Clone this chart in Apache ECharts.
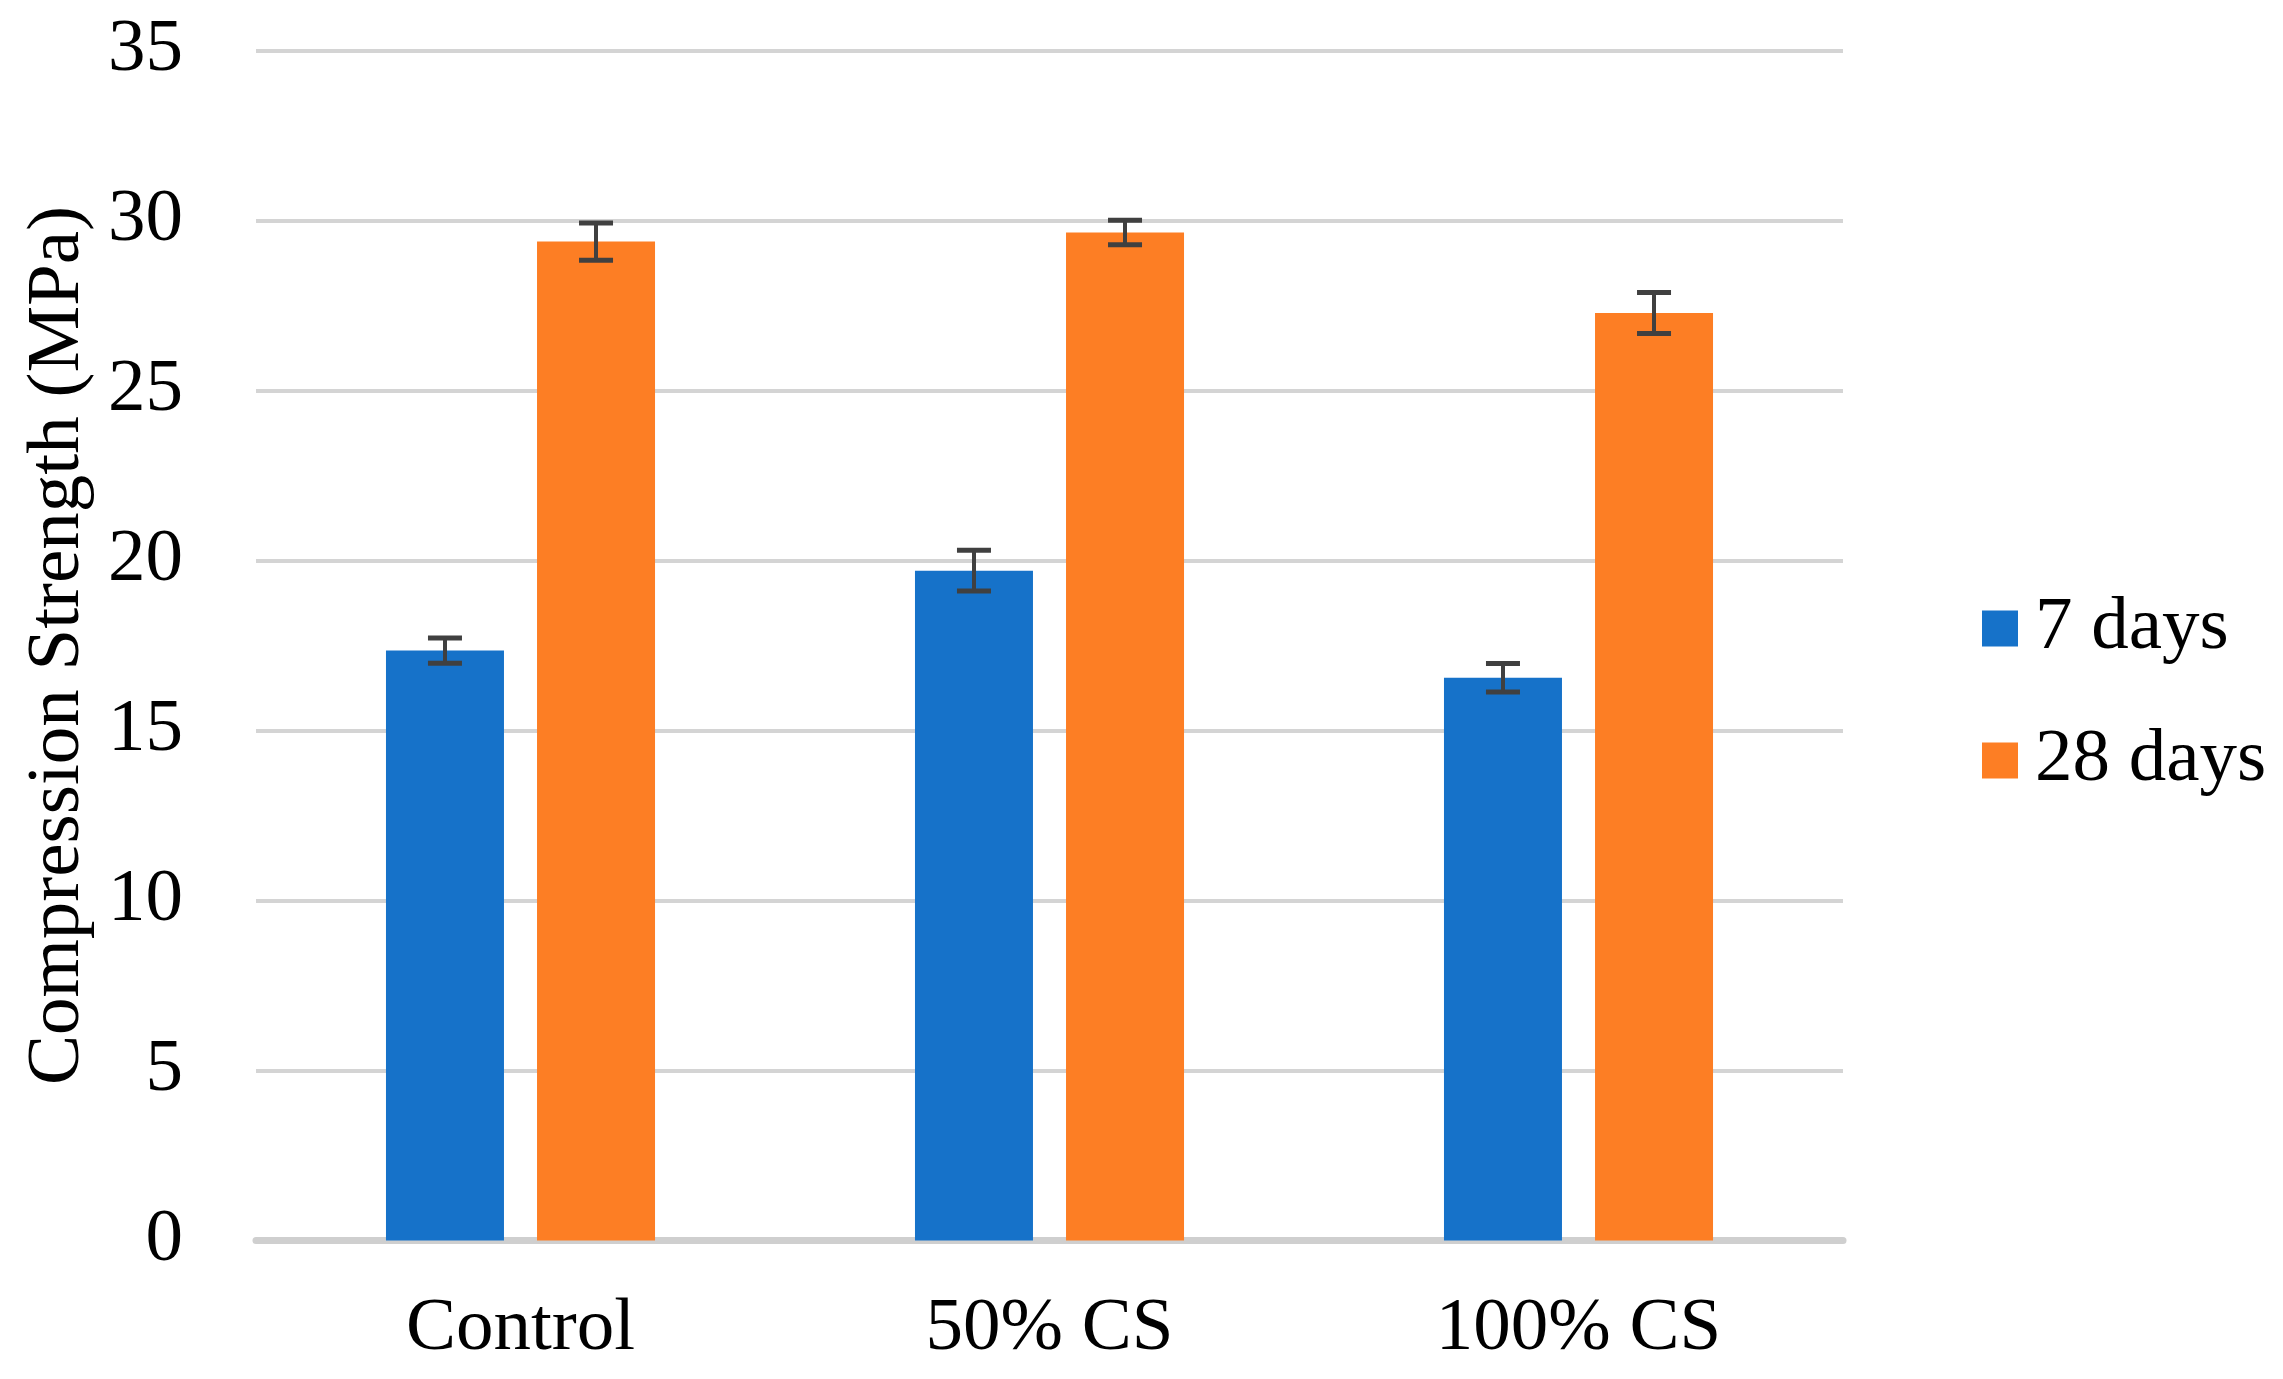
<!DOCTYPE html>
<html>
<head>
<meta charset="utf-8">
<script src="https://cdn.jsdelivr.net/npm/echarts@6/dist/echarts.min.js"></script>
<style>
html,body{margin:0;padding:0;background:#fff;}
#chart{width:2283px;height:1379px;}
</style>
</head>
<body>
<div id="chart"></div>
<script>
var categories = ['Control', '50% CS', '100% CS'];
var seriesNames = ['7 days', '28 days'];
var days7 = [17.35, 19.7, 16.55];
var days28 = [29.38, 29.65, 27.28];
var err7 = [0.37, 0.6, 0.42];
var err28 = [0.55, 0.36, 0.6];
var yTicks = [0, 5, 10, 15, 20, 25, 30, 35];

var FONT = 'Liberation Serif';
var FS = 75;
var BAR_W = 118;
var BAR_GAP = 0.28;
var colors = ['#1672C9', '#FD7E24'];

function errData(vals, errs) {
  return vals.map(function (v, i) { return [i, v - errs[i], v + errs[i]]; });
}

function makeErrSeries(vals, errs, sign) {
  return {
    type: 'custom',
    z: 10,
    silent: true,
    data: errData(vals, errs),
    renderItem: function (params, api) {
      var off = sign * (BAR_W + BAR_W * BAR_GAP) / 2;
      var lo = api.coord([api.value(0), api.value(1)]);
      var hi = api.coord([api.value(0), api.value(2)]);
      var x = lo[0] + off;
      var cap = 17;
      var st = { stroke: '#404040', lineWidth: 5 };
      return {
        type: 'group',
        children: [
          { type: 'line', shape: { x1: x, y1: lo[1], x2: x, y2: hi[1] }, style: { stroke: '#404040', lineWidth: 4 } },
          { type: 'line', shape: { x1: x - cap, y1: lo[1], x2: x + cap, y2: lo[1] }, style: st },
          { type: 'line', shape: { x1: x - cap, y1: hi[1], x2: x + cap, y2: hi[1] }, style: st }
        ]
      };
    }
  };
}

var chart = echarts.init(document.getElementById('chart'), null, { renderer: 'canvas' });
chart.setOption({
  animation: false,
  backgroundColor: '#ffffff',
  grid: { left: 256, right: 2283 - 1843, top: 50.5, bottom: 1379 - 1240.5, containLabel: false },
  legend: {
    orient: 'vertical',
    left: 1977,
    top: 586,
    itemWidth: 36,
    itemHeight: 36,
    itemGap: 57,
    icon: 'rect',
    data: seriesNames,
    textStyle: { fontFamily: FONT, fontSize: FS, color: '#000', padding: [0, 0, 0, 12] }
  },
  xAxis: {
    type: 'category',
    data: categories,
    axisLine: { show: true, lineStyle: { color: '#CFCFCF', width: 7 } },
    axisTick: { show: false },
    axisLabel: { fontFamily: FONT, fontSize: FS, color: '#000', margin: 51 }
  },
  yAxis: {
    type: 'value',
    min: 0,
    max: 35,
    interval: 5,
    name: 'Compression Strength (MPa)',
    nameLocation: 'middle',
    nameGap: 160,
    nameTextStyle: { fontFamily: FONT, fontSize: FS, color: '#000' },
    axisLine: { show: false },
    axisTick: { show: false },
    splitLine: { lineStyle: { color: '#D4D4D4', width: 4 } },
    axisLabel: {
      fontFamily: FONT, fontSize: FS, color: '#000', margin: 73,
      formatter: function (v) { return yTicks.indexOf(v) >= 0 ? String(v) : ''; }
    }
  },
  series: [
    { name: seriesNames[0], type: 'bar', data: days7, barWidth: BAR_W, barGap: (BAR_GAP * 100) + '%', itemStyle: { color: colors[0] } },
    { name: seriesNames[1], type: 'bar', data: days28, barWidth: BAR_W, itemStyle: { color: colors[1] } },
    makeErrSeries(days7, err7, -1),
    makeErrSeries(days28, err28, 1)
  ]
});
</script>
</body>
</html>
